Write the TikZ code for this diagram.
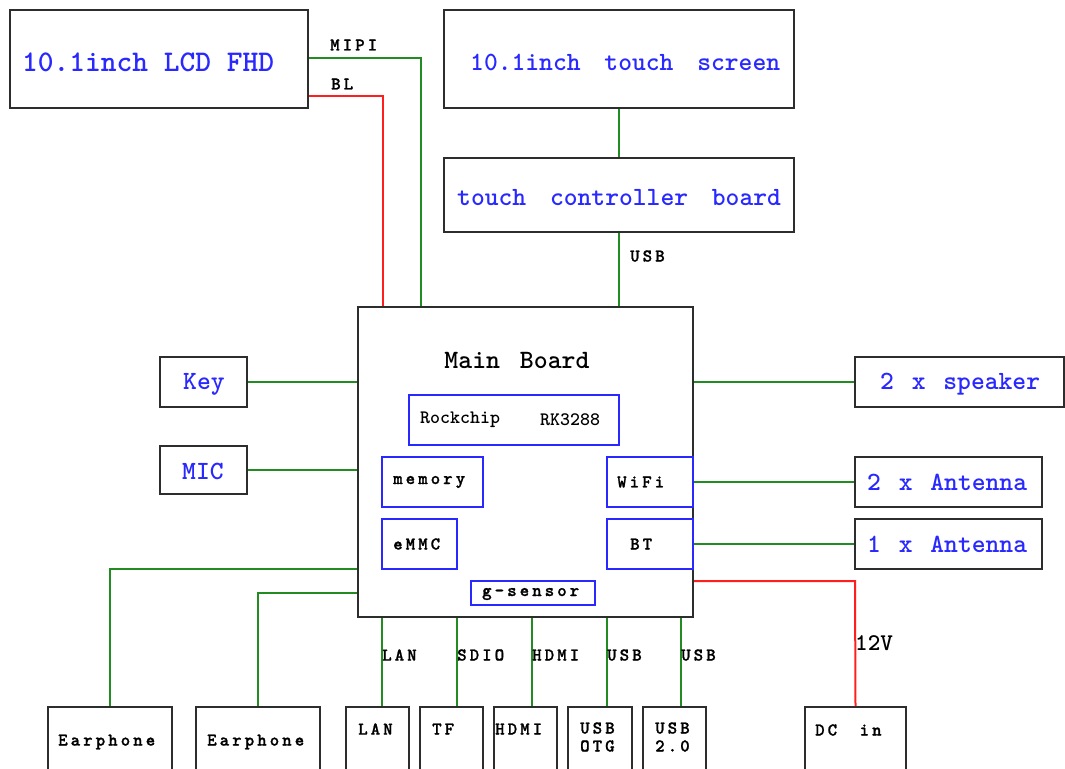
\documentclass[tikz,border=0pt]{standalone}
\usepackage{fontspec}
\newfontfamily\cour{lmmonolt10-bold.otf}
\newfontfamily\courls{lmmonolt10-bold.otf}[LetterSpace=17,FakeBold=1.2]
\definecolor{bblue}{RGB}{40,40,255}
\definecolor{gwire}{RGB}{34,139,34}
\definecolor{rwire}{RGB}{255,30,30}
\definecolor{edgec}{RGB}{45,45,45}
\begin{document}
\begin{tikzpicture}[x=1pt,y=-1pt,
  box/.style={draw=edgec,line width=2pt,rectangle,inner sep=0pt,fill=white},
  sub/.style={draw=bblue,line width=2pt,rectangle,inner sep=0pt},
  gline/.style={draw=gwire,line width=2pt},
  rline/.style={draw=rwire,line width=2pt},
  big/.style={anchor=west,inner sep=0pt,text=bblue,font=\cour\fontsize{26.3}{30}\selectfont},
  huge/.style={big,font=\cour\fontsize{30}{34}\selectfont},
  lbl/.style={anchor=west,inner sep=0pt,text=black,font=\courls\fontsize{18}{20}\selectfont},
  chip/.style={anchor=west,inner sep=0pt,text=black,font=\cour\fontsize{19}{22}\selectfont},
  volt/.style={anchor=west,inner sep=0pt,text=black,font=\cour\fontsize{24}{26}\selectfont},
  title/.style={inner sep=0pt,text=black,font=\cour\fontsize{26.5}{30}\selectfont}]
\useasboundingbox (0,0) rectangle (1065,768);

% boxes
\node[box,minimum width=298,minimum height=98] (lcd) at (159,59) {};
\node[box,minimum width=350,minimum height=98] (ts) at (619,59) {};
\node[box,minimum width=350,minimum height=74] (tc) at (619,195) {};
\node[box,minimum width=335,minimum height=310] (main) at (525.5,462) {};
\node[sub,minimum width=210,minimum height=50] (rk) at (514,420) {};
\node[sub,minimum width=101,minimum height=50] (mem) at (432.5,482) {};
\node[sub,minimum width=75,minimum height=50] (emmc) at (419.5,544) {};
\node[sub,minimum width=86,minimum height=50] (wifi) at (650,482) {};
\node[sub,minimum width=86,minimum height=50] (bt) at (650,544) {};
\node[sub,minimum width=124,minimum height=24] (gs) at (533,593) {};
\node[box,minimum width=87,minimum height=50] (key) at (203.5,382) {};
\node[box,minimum width=87,minimum height=48] (mic) at (203.5,470) {};
\node[box,minimum width=209,minimum height=50] (spk) at (959.5,382) {};
\node[box,minimum width=187,minimum height=50] (ant2) at (948.5,482) {};
\node[box,minimum width=187,minimum height=50] (ant1) at (948.5,544) {};
\node[box,minimum width=124,minimum height=68] (ear1) at (110,741) {};
\node[box,minimum width=124,minimum height=68] (ear2) at (258,741) {};
\node[box,minimum width=63,minimum height=68] (lan) at (377.5,741) {};
\node[box,minimum width=63,minimum height=68] (tf) at (451.5,741) {};
\node[box,minimum width=63,minimum height=68] (hdmi) at (525.5,741) {};
\node[box,minimum width=64,minimum height=68] (otg) at (600,741) {};
\node[box,minimum width=63,minimum height=68] (u20) at (674.5,741) {};
\node[box,minimum width=101,minimum height=68] (dc) at (855.5,741) {};

% wire bend points
\coordinate (mipiX) at (421,58);
\coordinate (blX) at (383,96);
\coordinate (pwr) at (855,581);
\coordinate (e1) at (110,569);
\coordinate (e2) at (258,593);
\coordinate (lanX) at (382,650);
\coordinate (tfX) at (457,650);
\coordinate (hdmiX) at (532,650);
\coordinate (otgX) at (607,650);
\coordinate (u20X) at (681,650);

% wires
\draw[gline] (lcd.east |- mipiX) -- (mipiX) -- (mipiX |- main.north);
\draw[rline] (lcd.east |- blX) -- (blX) -- (blX |- main.north);
\draw[gline] (ts.south) -- (tc.north);
\draw[gline] (tc.south) -- (tc.south |- main.north);
\draw[gline] (key.east) -- (key.east -| main.west);
\draw[gline] (mic.east) -- (mic.east -| main.west);
\draw[gline] (main.east |- spk.west) -- (spk.west);
\draw[gline] (wifi.east) -- (ant2.west);
\draw[gline] (bt.east) -- (ant1.west);
\draw[rline] (main.east |- pwr) -- (pwr) -- (dc.north);
\draw[gline] (main.west |- e1) -- (e1) -- (ear1.north);
\draw[gline] (main.west |- e2) -- (e2) -- (ear2.north);
\draw[gline] (lanX |- main.south) -- (lanX |- lan.north);
\draw[gline] (tfX |- main.south) -- (tfX |- tf.north);
\draw[gline] (hdmiX |- main.south) -- (hdmiX |- hdmi.north);
\draw[gline] (otgX |- main.south) -- (otgX |- otg.north);
\draw[gline] (u20X |- main.south) -- (u20X |- u20.north);

% texts
\node[huge] (tlcd) at (22,62) {10.1inch LCD FHD};
\node[big] (tts) at (470,62) {10.1inch\hspace{10pt} touch\hspace{10pt} screen};
\node[big] (ttc) at (457,198) {touch\hspace{10pt} controller\hspace{10pt} board};
\node[title] (tmain) at (517,360) {Main\hspace{6pt} Board};
\node[chip] (trk1) at (420,420) {Rockchip};
\node[chip] (trk2) at (540,420) {RK3288};
\node[lbl] (tmem) at (393,482) {memory};
\node[lbl] (temmc) at (393,544) {eMMC};
\node[lbl] (twifi) at (617,482) {WiFi};
\node[lbl] (tbt) at (630,544) {BT};
\node[lbl] (tgs) at (482,594) {g-sensor};
\node[big] (tkey) at (183,384) {Key};
\node[big] (tmic) at (182,471) {MIC};
\node[big] (tspk) at (880,384) {2\hspace{4pt} x\hspace{4pt} speaker};
\node[big] (tant2) at (867,482) {2\hspace{4pt} x\hspace{4pt} Antenna};
\node[big] (tant1) at (867,544) {1\hspace{4pt} x\hspace{4pt} Antenna};
\node[lbl] (tear1) at (58,742) {Earphone};
\node[lbl] (tear2) at (207,742) {Earphone};
\node[lbl] (tlan) at (358,729) {LAN};
\node[lbl] (ttf) at (432,729) {TF};
\node[lbl] (thdmi) at (495,729) {HDMI};
\node[lbl] (totg1) at (580,728) {USB};
\node[lbl] (totg2) at (580,746) {OTG};
\node[lbl] (tu201) at (655,728) {USB};
\node[lbl] (tu202) at (655,746) {2.0};
\node[lbl] (tdc) at (815,730) {DC\hspace{10pt} in};

% wire labels
\node[lbl] (lmipi) at (330,45) {MIPI};
\node[lbl] (lbl) at (331,84) {BL};
\node[lbl] (lusb) at (630,256) {USB};
\node[lbl] (llan) at (382,655) {LAN};
\node[lbl] (lsdio) at (457,655) {SDIO};
\node[lbl] (lhdmi) at (532,655) {HDMI};
\node[lbl] (lotg) at (607,655) {USB};
\node[lbl] (lu20) at (681,655) {USB};
\node[volt] (l12v) at (855,643) {12V};
\end{tikzpicture}
\end{document}
